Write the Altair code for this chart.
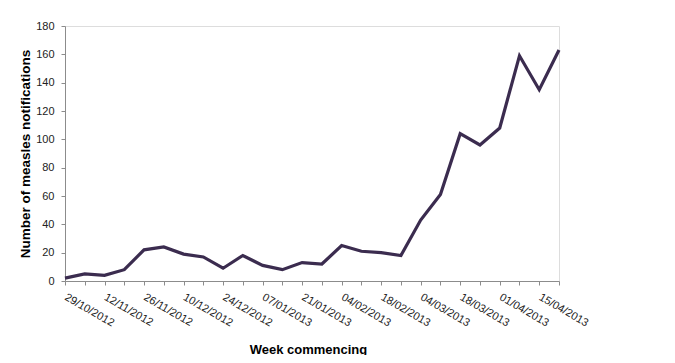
import altair as alt
import pandas as pd

weeks = ["29/10/2012", "05/11/2012", "12/11/2012", "19/11/2012", "26/11/2012",
         "03/12/2012", "10/12/2012", "17/12/2012", "24/12/2012", "31/12/2012",
         "07/01/2013", "14/01/2013", "21/01/2013", "28/01/2013", "04/02/2013",
         "11/02/2013", "18/02/2013", "25/02/2013", "04/03/2013", "11/03/2013",
         "18/03/2013", "25/03/2013", "01/04/2013", "08/04/2013", "15/04/2013",
         "22/04/2013"]
notifications = [2, 5, 4, 8, 22, 24, 19, 17, 9, 18, 11, 8, 13, 12, 25,
                 21, 20, 18, 43, 61, 104, 96, 108, 159, 135, 163]
labelled = weeks[0:25:2]
y_ticks = [0, 20, 40, 60, 80, 100, 120, 140, 160, 180]

df = pd.DataFrame({"week": weeks, "n": notifications})

label_list = "[" + ",".join("'%s'" % w for w in labelled) + "]"

chart = alt.Chart(df).mark_line(color="#3b2c4f", strokeWidth=3.2, strokeJoin="miter").encode(
    x=alt.X("week:O", sort=weeks,
            scale=alt.Scale(type="point", padding=0),
            axis=alt.Axis(title="Week commencing", labelAngle=30, labelAlign="left",
                          labelBaseline="top", labelPadding=6, labelOffset=3,
                          labelExpr="indexof(%s, datum.value) >= 0 ? datum.value : ''" % label_list,
                          labelFont="Liberation Sans", labelFontSize=11, labelColor="#222",
                          titleFont="Liberation Sans", titleFontSize=13, titleFontWeight="bold",
                          titleColor="#000", titleX=243, titleY=72, titleBaseline="alphabetic",
                          domainColor="#8c8c8c", tickColor="#8c8c8c", tickSize=4,
                          labelOverlap=False, grid=False)),
    y=alt.Y("n:Q", scale=alt.Scale(domain=[0, 180], nice=False),
            axis=alt.Axis(title="Number of measles notifications", values=y_ticks,
                          labelFont="Liberation Sans", labelFontSize=11, labelColor="#222",
                          titleFont="Liberation Sans", titleFontSize=13.5, titleFontWeight="bold",
                          titleColor="#000", titleX=-36, titleY=127.5, titleAngle=-90,
                          titleAlign="center", titleBaseline="alphabetic", labelPadding=7,
                          domainColor="#8c8c8c", tickColor="#8c8c8c", tickSize=4,
                          grid=False)),
).properties(
    width=494, height=255,
    autosize=alt.AutoSizeParams(type="none"),
    padding={"left": 57, "top": 18, "right": 100, "bottom": 74},
).configure_view(stroke=None).configure(background="white")

chart.save("out.html", embed_options={"renderer": "svg", "actions": False})
